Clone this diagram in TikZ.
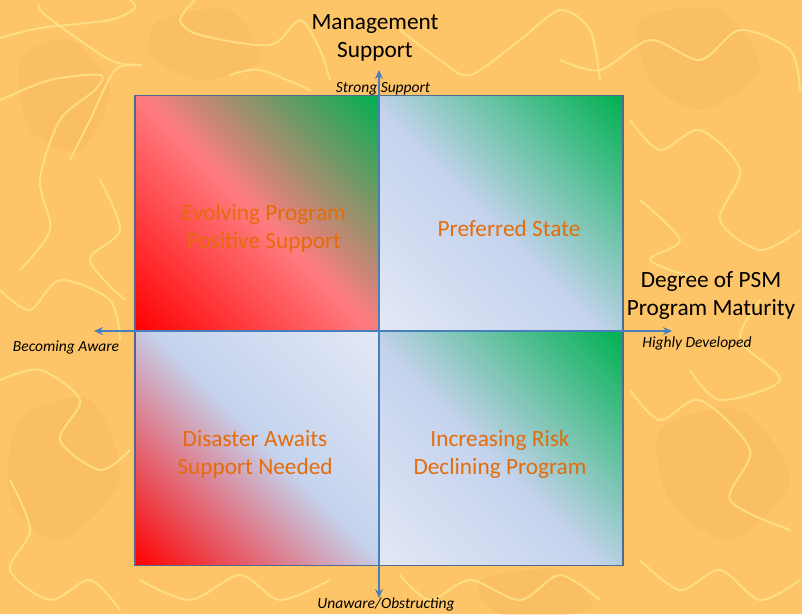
\documentclass[tikz,border=0pt]{standalone}
\usepackage{fontspec}
\setmainfont{Carlito}
\usetikzlibrary{arrows.meta}
\definecolor{bgor}{HTML}{FDC468}
\definecolor{blobor}{HTML}{F9B75C}
\definecolor{squig}{HTML}{FFE88C}
\definecolor{qred}{HTML}{FF0000}
\definecolor{qpink}{HTML}{FF7C80}
\definecolor{qgreen}{HTML}{00B050}
\definecolor{qlight}{HTML}{E2E8F5}
\definecolor{qblue}{HTML}{C5D3EE}
\definecolor{qborder}{HTML}{4F6A92}
\definecolor{axblue}{HTML}{4A7EBB}
\definecolor{labor}{HTML}{E46C0A}
\pgfdeclareverticalshading{shTL}{100bp}{color(0bp)=(qred); color(14.6bp)=(qred); color(50bp)=(qpink); color(85.4bp)=(qgreen); color(100bp)=(qgreen)}
\pgfdeclareverticalshading{shGR}{100bp}{color(0bp)=(qlight); color(14.6bp)=(qlight); color(47bp)=(qblue); color(85.4bp)=(qgreen); color(100bp)=(qgreen)}
\pgfdeclareverticalshading{shBL}{100bp}{color(0bp)=(qred); color(14.6bp)=(qred); color(52bp)=(qblue); color(85.4bp)=(qlight); color(100bp)=(qlight)}
\tikzset{
  quad/.style={draw=qborder, line width=1.3pt, minimum width=244pt, minimum height=235pt, inner sep=0pt, shade, shading=#1, shading angle=-45},
  axisline/.style={draw=axblue, line width=1.3pt, {Stealth[length=9pt,width=8pt]}-{Stealth[length=9pt,width=8pt]}},
  qlab/.style={text=labor, font=\fontsize{23.3}{28}\selectfont, align=center, anchor=base, inner sep=0pt},
  ttl/.style={text=black, font=\fontsize{23.3}{28}\selectfont, align=center, anchor=base, inner sep=0pt},
  axlab/.style={text=black, font=\fontsize{15.5}{18}\selectfont\itshape, anchor=base, inner sep=0pt},
  squiggle/.style={draw=squig, line width=2pt, opacity=0.75, line cap=round}
}
\begin{document}
\begin{tikzpicture}[x=1pt, y=-1pt]
\useasboundingbox (0,0) rectangle (802,614);
\fill[bgor] (0,0) rectangle (802,614);
% background texture
\begin{scope}
\clip (0,0) rectangle (802,614);
\fill[blobor, opacity=0.35] plot[smooth cycle] coordinates {(20,60) (70,40) (110,90) (80,150) (30,130)};
\fill[blobor, opacity=0.35] plot[smooth cycle] coordinates {(640,20) (720,10) (760,70) (700,110) (650,80)};
\fill[blobor, opacity=0.35] plot[smooth cycle] coordinates {(20,420) (90,400) (120,480) (60,540) (10,500)};
\fill[blobor, opacity=0.35] plot[smooth cycle] coordinates {(660,430) (740,410) (790,480) (730,540) (670,500)};
\fill[blobor, opacity=0.35] plot[smooth cycle] coordinates {(160,20) (230,10) (260,60) (200,80) (150,55)};
\fill[blobor, opacity=0.35] plot[smooth cycle] coordinates {(480,580) (560,570) (590,610) (500,614)};
\draw[squiggle] plot[smooth] coordinates {(0,38) (40,28) (110,20) (135,8) (130,0)};
\draw[squiggle] plot[smooth] coordinates {(0,100) (50,80) (100,75) (95,90) (60,120) (40,180) (50,230) (20,270)};
\draw[squiggle] plot[smooth] coordinates {(40,5) (45,15) (110,60) (140,65) (115,70) (90,120) (70,160)};
\draw[squiggle] plot[smooth] coordinates {(195,0) (180,20) (200,35) (270,45) (300,20) (320,50) (330,80)};
\draw[squiggle] plot[smooth] coordinates {(230,75) (260,70) (310,90)};
\draw[squiggle] plot[smooth] coordinates {(400,30) (440,60) (470,75) (520,40) (560,10) (590,30) (600,80)};
\draw[squiggle] plot[smooth] coordinates {(560,60) (600,70) (650,40) (700,60) (740,30) (790,50) (800,90)};
\draw[squiggle] plot[smooth] coordinates {(630,120) (660,150) (700,130) (740,170) (720,220) (760,250) (800,230)};
\draw[squiggle] plot[smooth] coordinates {(640,200) (680,240) (650,260) (700,280)};
\draw[squiggle] plot[smooth] coordinates {(760,300) (740,340) (780,380) (720,400) (690,370)};
\draw[squiggle] plot[smooth] coordinates {(630,390) (660,420) (700,400) (750,450) (730,500) (790,530)};
\draw[squiggle] plot[smooth] coordinates {(640,560) (680,590) (720,570) (760,600) (800,580)};
\draw[squiggle] plot[smooth] coordinates {(0,290) (30,310) (60,280) (110,300) (120,340)};
\draw[squiggle] plot[smooth] coordinates {(0,380) (40,370) (80,400) (60,440) (100,470) (130,450)};
\draw[squiggle] plot[smooth] coordinates {(10,480) (30,530) (10,570) (50,600) (90,580) (120,610)};
\draw[squiggle] plot[smooth] coordinates {(140,580) (190,600) (240,575) (280,600) (330,580)};
\draw[squiggle] plot[smooth] coordinates {(400,575) (430,600) (470,580) (520,600) (560,575) (600,600)};
\draw[squiggle] plot[smooth] coordinates {(100,180) (120,230) (90,260) (125,300)};
\end{scope}
% quadrants
\node[quad=shTL] (qTL) at (257,213) {};
\node[quad=shGR] (qTR) at (501,213) {};
\node[quad=shBL] (qBL) at (257,448) {};
\node[quad=shGR] (qBR) at (501,448) {};
% axes
\coordinate (axL) at (94,331);
\coordinate (axR) at (672,331);
\coordinate (axT) at (379,70);
\coordinate (axB) at (379,598);
\draw[axisline] (axL) -- (axR);
\draw[axisline] (axB) -- (axT);
% quadrant labels (anchor at baseline of last line)
\node[qlab] (lTL) at (264,248) {Evolving Program\\Positive Support};
\node[qlab] (lTR) at (509,236) {Preferred State};
\node[qlab] (lBL) at (255,474) {Disaster Awaits\\Support Needed};
\node[qlab] (lBR) at (500,474) {Increasing Risk\\Declining Program};
% titles
\node[ttl] (tMS) at (375,57) {Management\\Support};
\node[ttl] (tDP) at (711,315) {Degree of PSM\\Program Maturity};
% axis labels
\node[axlab] (aT) at (383,92) {Strong Support};
\node[axlab] (aL) at (66,351) {Becoming Aware};
\node[axlab] (aR) at (697,347) {Highly Developed};
\node[axlab] (aB) at (386,608) {Unaware/Obstructing};
\end{tikzpicture}
\end{document}
